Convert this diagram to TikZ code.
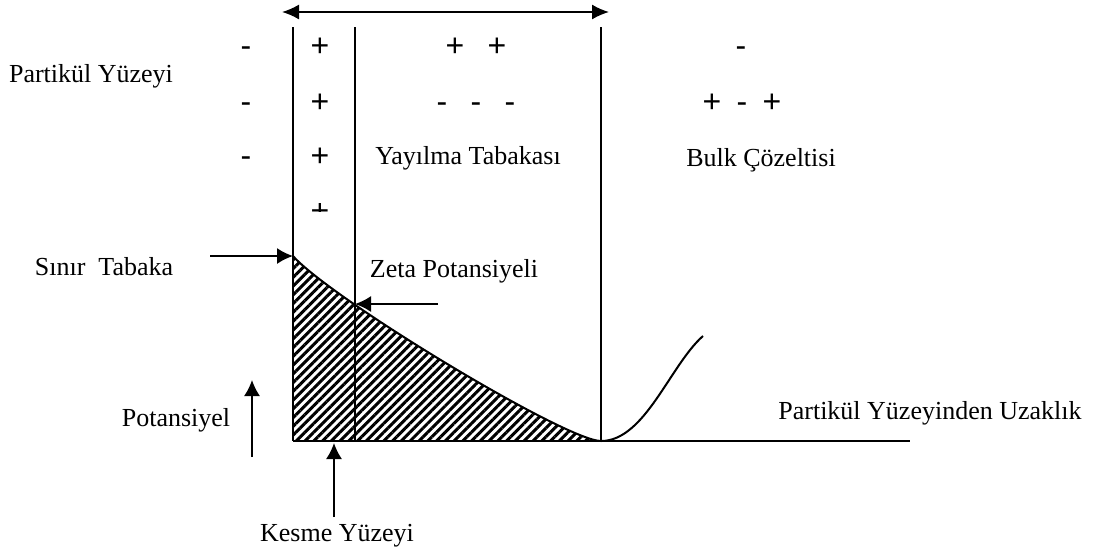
\documentclass[tikz,border=0pt]{standalone}
\usepackage{fontspec}
\setmainfont{Liberation Serif}
\newfontfamily\signfont{Liberation Sans}
\usetikzlibrary{arrows.meta,patterns.meta}

\begin{document}
\begin{tikzpicture}[x=0.5pt, y=-0.5pt,
  lbl/.style={inner sep=0pt, font=\fontsize{13}{15}\selectfont},
  sgn/.style={inner sep=0pt, anchor=base, font=\signfont\fontsize{16}{18}\selectfont},
  wall/.style={line width=1pt},
  arr/.style={line width=0.8pt, -{Latex[length=8pt,width=8pt]}}]

\useasboundingbox (0,0) rectangle (1097,553);

% Labels
\node[lbl] (surface) at (91,76) {Partikül Yüzeyi};
\node[lbl] (stern) at (104,267) {Sınır\ \ Tabaka};
\node[lbl] (zeta) at (454,271) {Zeta Potansiyeli};
\node[lbl] (diffuse) at (468,158) {Yayılma Tabakası};
\node[lbl] (bulk) at (761,160) {Bulk Çözeltisi};
\node[lbl] (potential) at (176,420) {Potansiyel};
\node[lbl] (distance) at (930,413) {Partikül Yüzeyinden Uzaklık};
\node[lbl] (shear) at (337,536) {Kesme Yüzeyi};

% Charges
\foreach \y [count=\i] in {56,112,166} {
  \node[sgn] (neg\i) at (246,\y) {-};
  \node[sgn] (pos\i) at (320,\y) {+};
}
\begin{scope}
  \clip (300,203) rectangle (340,211);
  \node[sgn] (pos4) at (320,221) {+};
\end{scope}
\node[sgn] (dpos1) at (455,56) {+};
\node[sgn] (dpos2) at (497,56) {+};
\node[sgn] (dneg1) at (442,112) {-};
\node[sgn] (dneg2) at (476,112) {-};
\node[sgn] (dneg3) at (510,112) {-};
\node[sgn] (bneg1) at (741,56) {-};
\node[sgn] (bpos1) at (712,112) {+};
\node[sgn] (bneg2) at (742,112) {-};
\node[sgn] (bpos2) at (772,112) {+};

% Layer boundaries
\coordinate (wallA) at (293,27);
\coordinate (wallB) at (355,27);
\coordinate (wallC) at (601,27);
\coordinate (footA) at (293,441);
\coordinate (footB) at (355,441);
\coordinate (footC) at (601,441);
\coordinate (axisEnd) at (910,441);
\draw[wall] (wallA) -- (footA);
\draw[wall] (wallB) -- (footB);
\draw[wall] (wallC) -- (footC);
\draw[wall] (footA) -- (axisEnd);

% Potential curve
\coordinate (peak) at (293,256);
\coordinate (zetaPt) at (355,304);
\coordinate (tail) at (703,336);
\fill[pattern={Lines[angle=45,distance=3.1pt,line width=1.5pt]}]
  (peak) .. controls (330,298) and (566,441) .. (footC) -- (footA) -- cycle;
\draw[wall] (peak) .. controls (330,298) and (566,441) .. (footC)
  .. controls (645,441) and (670,365) .. (tail);

% Arrows
\coordinate (spanL) at (282,12);
\coordinate (spanR) at (609,12);
\draw[line width=0.8pt, {Latex[length=8.5pt,width=7.5pt]}-{Latex[length=8.5pt,width=7.5pt]}] (spanL) -- (spanR);
\coordinate (sternTail) at (210,256);
\draw[arr] (sternTail) -- (peak);
\coordinate (zetaTail) at (438,304);
\draw[arr] (zetaTail) -- (zetaPt);
\coordinate (potLow) at (252,457);
\coordinate (potHigh) at (252,380);
\draw[arr] (potLow) -- (potHigh);
\coordinate (shearLow) at (334,517);
\coordinate (shearHigh) at (334,443);
\draw[arr] (shearLow) -- (shearHigh);

\end{tikzpicture}
\end{document}
